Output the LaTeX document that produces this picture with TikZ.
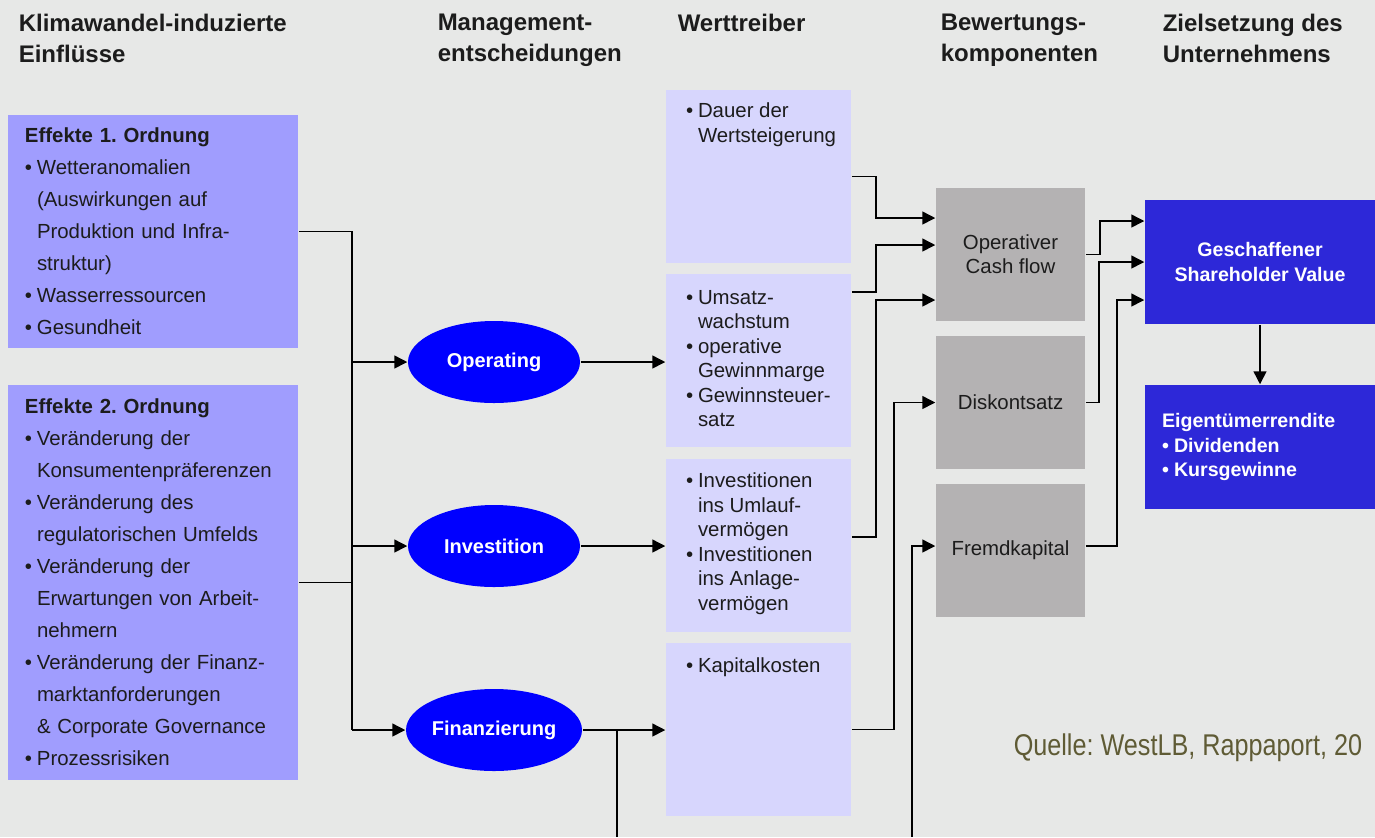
\documentclass[tikz,border=0pt]{standalone}
\usepackage{fontspec}
\setmainfont{Liberation Sans}
\newfontfamily\narrowfont[FakeStretch=0.84]{Liberation Sans}
\usepackage{tikz}
\usetikzlibrary{arrows.meta}
\usetikzlibrary{positioning}
\usetikzlibrary{shapes.geometric}

\definecolor{bg}{HTML}{E7E8E7}
\definecolor{effekt}{HTML}{A09DFE}
\definecolor{treiber}{HTML}{D7D6FD}
\definecolor{komp}{HTML}{B4B2B3}
\definecolor{entsch}{HTML}{0000FF}
\definecolor{ziel}{HTML}{2D28D8}
\definecolor{quelle}{HTML}{5F5B35}
\definecolor{schrift}{HTML}{1C1C1C}

\frenchspacing
\newcommand{\bul}{\makebox[6pt][l]{\textbullet}}
\newcommand{\ein}{\hspace*{6pt}}

\tikzset{
  effektbox/.style={fill=effekt, text=schrift, align=left, text width=128pt, inner xsep=8.5pt,
    font=\fontsize{10.2}{16}\selectfont},
  entscheidung/.style={ellipse, fill=entsch, text=white, minimum width=86pt, minimum height=41pt,
    inner sep=0pt, font=\bfseries\fontsize{10}{12}\selectfont},
  treiberbox/.style={fill=treiber, minimum width=92.5pt, minimum height=86.5pt, inner sep=0pt},
  treibertext/.style={anchor=north west, inner sep=0pt, align=left, text=schrift,
    font=\fontsize{10.2}{12.25}\selectfont},
  kompbox/.style={fill=komp, minimum width=74.5pt, minimum height=66.5pt, inner sep=0pt,
    align=center, text=schrift, font=\fontsize{10.2}{12}\selectfont},
  zielbox/.style={fill=ziel, minimum width=115pt, minimum height=62pt, text=white,
    font=\bfseries\fontsize{9.8}{12.4}\selectfont},
  kopf/.style={anchor=north west, inner sep=0pt, align=left, text=schrift,
    font=\bfseries\fontsize{12}{15.5}\selectfont},
  arr/.style={-{Triangle[length=6.5pt,width=6.5pt]}}
}

\begin{document}
\begin{tikzpicture}[x=0.5pt,y=-0.5pt,line width=0.75pt]
  \useasboundingbox (0,0) rectangle (1375,837);
  \fill[bg] (0,0) rectangle (1375,837);

  %column heads
  \node[kopf] (k1) at (18,13) {Klimawandel-induzierte\\Einflüsse};
  \node[kopf] (k2) at (437,13) {Management-\\entscheidungen};
  \node[kopf] (k3) at (677,13) {Werttreiber};
  \node[kopf] (k4) at (940,13) {Bewertungs-\\komponenten};
  \node[kopf] (k5) at (1162,13) {Zielsetzung des\\Unternehmens};

  %influences
  \node[effektbox, minimum height=116.5pt] (e1) at (153,231.5) {\textbf{Effekte 1. Ordnung}\\
    \bul Wetteranomalien\\
    \ein(Auswirkungen auf\\
    \ein Produktion und Infra-\\
    \ein struktur)\\
    \bul Wasserressourcen\\
    \bul Gesundheit};
  \node[effektbox, minimum height=197.5pt] (e2) at (153,582.5) {\textbf{Effekte 2. Ordnung}\\
    \bul Veränderung der\\
    \ein Konsumentenpräferenzen\\
    \bul Veränderung des\\
    \ein regulatorischen Umfelds\\
    \bul Veränderung der\\
    \ein Erwartungen von Arbeit-\\
    \ein nehmern\\
    \bul Veränderung der Finanz-\\
    \ein marktanforderungen\\
    \ein\&~Corporate Governance\\
    \bul Prozessrisiken};

  %decisions
  \node[entscheidung] (op) at (494,362) {Operating};
  \node[entscheidung] (inv) at (494,546) {Investition};
  \node[entscheidung] (fin) at (494,730) {Finanzierung};

  %value drivers
  \node[treiberbox] (wt1) at (758.5,176.5) {};
  \node[treiberbox] (wt2) at (758.5,360.5) {};
  \node[treiberbox] (wt3) at (758.5,545.5) {};
  \node[treiberbox] (wt4) at (758.5,729.5) {};
  \node[treibertext, below right=6.5pt and 10pt of wt1.north west] (wt1text)
    {\bul Dauer der\\\ein Wertsteigerung};
  \node[treibertext, below right=8pt and 10pt of wt2.north west] (wt2text)
    {\bul Umsatz-\\\ein wachstum\\\bul operative\\\ein Gewinnmarge\\\bul Gewinnsteuer-\\\ein satz};
  \node[treibertext, below right=7pt and 10pt of wt3.north west] (wt3text)
    {\bul Investitionen\\\ein ins Umlauf-\\\ein vermögen\\\bul Investitionen\\\ein ins Anlage-\\\ein vermögen};
  \node[treibertext, below right=7.5pt and 10pt of wt4.north west] (wt4text)
    {\bul Kapitalkosten};

  %valuation components
  \node[kompbox] (cf) at (1010.5,254.5) {Operativer\\Cash flow};
  \node[kompbox] (disk) at (1010.5,402.5) {Diskontsatz};
  \node[kompbox] (fk) at (1010.5,550.5) {Fremdkapital};

  %goals
  \node[zielbox, align=center] (sv) at (1260,262) {Geschaffener\\Shareholder Value};
  \node[zielbox, align=left, text width=98pt, inner xsep=8.5pt,
    font=\bfseries\fontsize{9.8}{12.25}\selectfont] (eig) at (1260,447)
    {Eigentümerrendite\\\bul Dividenden\\\bul Kursgewinne};

  %source
  \node[anchor=base west, inner sep=0pt, text=quelle,
    font=\narrowfont\fontsize{15}{18}\selectfont] (quelle) at (1013,755)
    {Quelle: WestLB, Rappaport, 20};

  %arrows to decisions
  \coordinate (bus) at (352,0);
  \draw (e1.east) -- (bus |- e1.east) -- (bus |- fin);
  \draw (e2.east) -- (bus |- e2.east);
  \draw[arr] (bus |- op) -- (op);
  \draw[arr] (bus |- inv) -- (inv);
  \draw[arr] (bus |- fin) -- (fin);

  %arrows to value drivers
  \draw[arr] (op.east) -- (op.east -| wt2.west);
  \draw[arr] (inv.east) -- (inv.east -| wt3.west);
  \draw[arr] (fin.east) -- (fin.east -| wt4.west);
  \coordinate (finab) at (617,837);
  \draw (finab |- fin) -- (finab);

  %arrows to components
  \draw[arr] (wt1.east) -- ++(12pt,0) |- ([yshift=18.25pt]cf.west);
  \draw[arr] ([yshift=34.25pt]wt2.east) -- ++(12pt,0) |- ([yshift=4.75pt]cf.west);
  \draw[arr] ([yshift=4.25pt]wt3.east) -- ++(12pt,0) |- ([yshift=-22.75pt]cf.west);
  \draw[arr] (wt4.east) -- ++(21pt,0) |- (disk.west);
  \coordinate (fkab) at (912,837);
  \draw[arr] (fkab) |- ([yshift=2.25pt]fk.west);

  %arrows to goals
  \draw[arr] (cf.east) -- ++(7pt,0) |- ([yshift=20.5pt]sv.west);
  \draw[arr] (disk.east) -- ++(6.5pt,0) |- (sv.west);
  \draw[arr] ([yshift=2.25pt]fk.east) -- ++(15.5pt,0) |- ([yshift=-19pt]sv.west);
  \draw[arr] (sv) -- (eig);
\end{tikzpicture}
\end{document}
